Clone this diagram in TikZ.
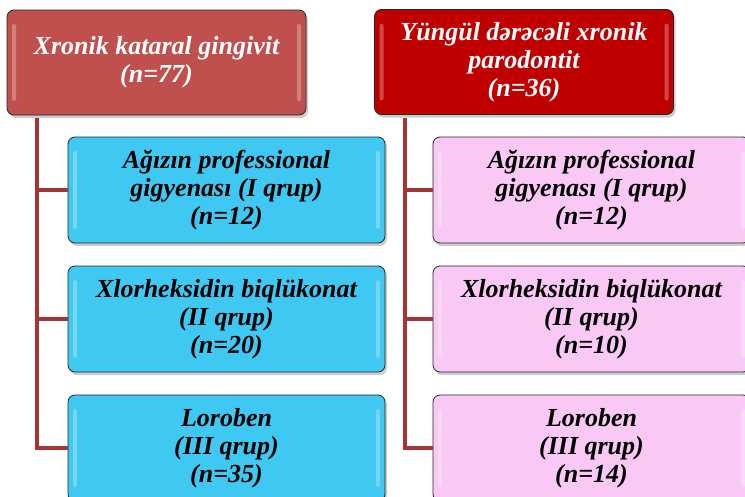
\documentclass[tikz,border=0pt]{standalone}
\usepackage{fontspec}
\setmainfont{Liberation Serif}
\usetikzlibrary{shadows}
\definecolor{hdrA}{HTML}{C0504D}
\definecolor{hdrB}{HTML}{C00000}
\definecolor{grpA}{HTML}{3EC8F2}
\definecolor{grpB}{HTML}{F9C8F4}
\definecolor{linkred}{HTML}{A53535}
\begin{document}
\begin{tikzpicture}[x=1pt,y=1pt]
\tikzstyle{every node}+=[inner sep=0pt]
\tikzstyle{box}=[draw=black!85, line width=0.8pt, rounded corners=7pt, align=center,
  font=\fontsize{26}{28}\selectfont\bfseries\itshape,
  drop shadow={shadow xshift=2pt,shadow yshift=-3pt,fill=black!40},
  path picture={
    \fill [white, opacity=0.28, rounded corners=2pt] ([xshift=5pt,yshift=-14pt]path picture bounding box.north west) rectangle ([xshift=9pt,yshift=14pt]path picture bounding box.south west);
    \fill [white, opacity=0.28, rounded corners=2pt] ([xshift=-5pt,yshift=-14pt]path picture bounding box.north east) rectangle ([xshift=-9pt,yshift=14pt]path picture bounding box.south east);}]
\tikzstyle{hdr}=[box, text=white, minimum width=299pt, minimum height=105pt]
\tikzstyle{grp}=[box, text=black, minimum width=317pt, minimum height=106pt]
\tikzstyle{link}=[draw=linkred, line width=4pt]
\useasboundingbox (0,0) rectangle (745,-496);
% headers
\node [hdr, fill=hdrA] (kg) at (156.5,-62.5) {Xronik kataral gingivit\\(n=77)};
\node [hdr, fill=hdrB] (pd) at (524,-62) {Yüngül dərəcəli xronik\\parodontit\\(n=36)};
% groups, left
\node [grp, fill=grpA] (kg1) at (226.5,-190) {Ağızın professional\\gigyenası (I qrup)\\(n=12)};
\node [grp, fill=grpA] (kg2) at (226.5,-319) {Xlorheksidin biqlükonat\\(II qrup)\\(n=20)};
\node [grp, fill=grpA] (kg3) at (226.5,-448) {Loroben\\(III qrup)\\(n=35)};
% groups, right
\node [grp, fill=grpB] (pd1) at (591.5,-190) {Ağızın professional\\gigyenası (I qrup)\\(n=12)};
\node [grp, fill=grpB] (pd2) at (591.5,-319) {Xlorheksidin biqlükonat\\(II qrup)\\(n=10)};
\node [grp, fill=grpB] (pd3) at (591.5,-448) {Loroben\\(III qrup)\\(n=14)};
% links
\draw [link] ([xshift=30pt,yshift=-3pt]kg.south west) |- (kg1.west);
\draw [link] ([xshift=30pt,yshift=-3pt]kg.south west) |- (kg2.west);
\draw [link] ([xshift=30pt,yshift=-3pt]kg.south west) |- (kg3.west);
\draw [link] ([xshift=31pt,yshift=-3pt]pd.south west) |- (pd1.west);
\draw [link] ([xshift=31pt,yshift=-3pt]pd.south west) |- (pd2.west);
\draw [link] ([xshift=31pt,yshift=-3pt]pd.south west) |- (pd3.west);
\end{tikzpicture}
\end{document}
